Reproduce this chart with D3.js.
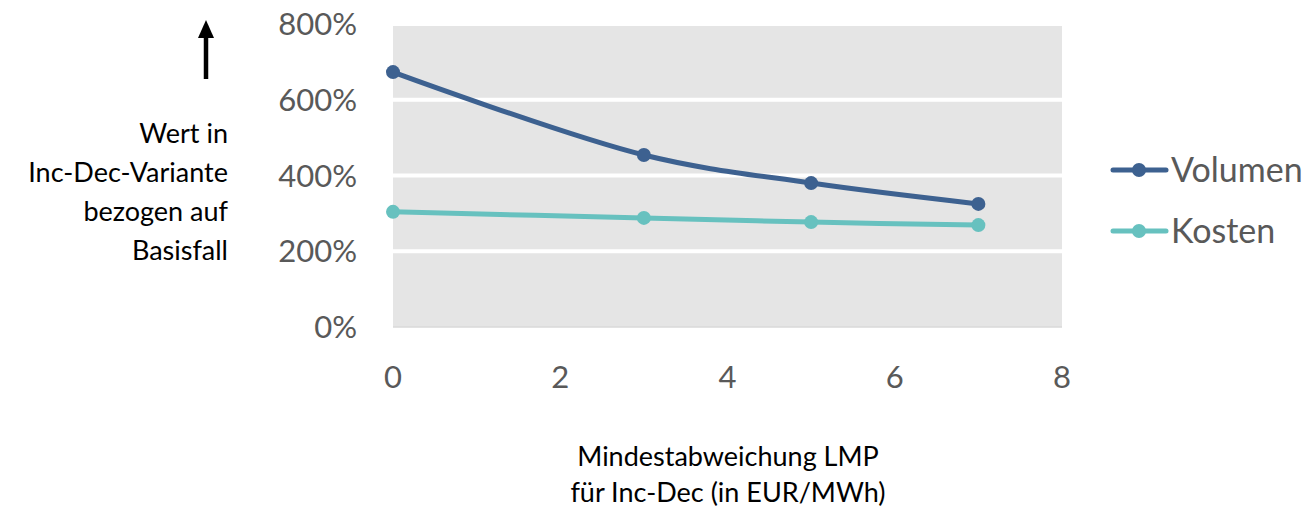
<!DOCTYPE html>
<html>
<head>
<meta charset="utf-8">
<script src="https://cdn.jsdelivr.net/npm/d3@7"></script>
<style>
  body { margin: 0; background: #fff; }
  text { font-family: Lato, "Open Sans", sans-serif; }
</style>
</head>
<body>
<div id="chart"></div>
<script>
// Mindestabweichung LMP (EUR/MWh)
const xValues = [0, 3, 5, 7];
const volumen = [673, 454, 380, 325];
const kosten = [304, 288, 277, 269];
const yTicks = [0, 200, 400, 600, 800];
const xTicks = [0, 2, 4, 6, 8];
const seriesNames = ["Volumen", "Kosten"];
const seriesColors = ["#3d6190", "#67c1bf"];
const yTitle = ["Wert in", "Inc-Dec-Variante", "bezogen auf", "Basisfall"];
const xTitle = ["Mindestabweichung LMP", "für Inc-Dec (in EUR/MWh)"];

const width = 1309;
const height = 509;

const svg = d3.select("#chart")
  .append("svg")
  .attr("width", width)
  .attr("height", height);

const x = d3.scaleLinear().domain([0, 8]).range([393, 1062]);
const y = d3.scaleLinear().domain([0, 800]).range([327, 24]);

// plot background
svg.append("rect")
  .attr("x", x(0))
  .attr("y", y(800))
  .attr("width", x(8) - x(0))
  .attr("height", y(0) - y(800))
  .style("fill", "#e5e5e5");

// white gridlines
svg.selectAll(".grid")
  .data(yTicks.filter((d) => d > 0))
  .enter()
  .append("line")
  .attr("x1", x(0))
  .attr("x2", x(8))
  .attr("y1", (d) => y(d))
  .attr("y2", (d) => y(d))
  .style("stroke", "#fff")
  .style("stroke-width", 4);

svg.append("line")
  .attr("x1", x(0))
  .attr("x2", x(8))
  .attr("y1", y(0))
  .attr("y2", y(0))
  .style("stroke", "#d9d9d9")
  .style("stroke-width", 1.5);

// y tick labels
svg.selectAll(".ylab")
  .data(yTicks)
  .enter()
  .append("text")
  .attr("x", 357)
  .attr("y", (d) => y(d))
  .attr("dy", "0.36em")
  .attr("text-anchor", "end")
  .style("font-size", "31px")
  .style("fill", "#595959")
  .text((d) => d + "%");

// x tick labels
svg.selectAll(".xlab")
  .data(xTicks)
  .enter()
  .append("text")
  .attr("x", (d) => x(d))
  .attr("y", 377)
  .attr("dy", "0.36em")
  .attr("text-anchor", "middle")
  .style("font-size", "31px")
  .style("fill", "#595959")
  .text((d) => d);

// series
const line = d3.line()
  .x((d) => x(d[0]))
  .y((d) => y(d[1]))
  .curve(d3.curveCatmullRom.alpha(0.5));

[volumen, kosten].forEach((vals, i) => {
  const pts = xValues.map((v, j) => [v, vals[j]]);
  svg.append("path")
    .datum(pts)
    .attr("d", line)
    .style("fill", "none")
    .style("stroke", seriesColors[i])
    .style("stroke-width", 5)
    .style("stroke-linecap", "round");
  svg.selectAll(".pt" + i)
    .data(pts)
    .enter()
    .append("circle")
    .attr("cx", (d) => x(d[0]))
    .attr("cy", (d) => y(d[1]))
    .attr("r", 7)
    .style("fill", seriesColors[i]);
});

// legend
const legend = svg.append("g");
seriesNames.forEach((name, i) => {
  const ly = 170 + i * 61;
  legend.append("line")
    .attr("x1", 1113)
    .attr("x2", 1166)
    .attr("y1", ly)
    .attr("y2", ly)
    .style("stroke", seriesColors[i])
    .style("stroke-width", 5)
    .style("stroke-linecap", "round");
  legend.append("circle")
    .attr("cx", 1139)
    .attr("cy", ly)
    .attr("r", 7)
    .style("fill", seriesColors[i]);
  legend.append("text")
    .attr("x", 1171)
    .attr("y", ly)
    .attr("dy", "0.36em")
    .style("font-size", "34px")
    .style("fill", "#595959")
    .text(name);
});

// y title with arrow
svg.append("line")
  .attr("x1", 206)
  .attr("x2", 206)
  .attr("y1", 79)
  .attr("y2", 34)
  .style("stroke", "#000")
  .style("stroke-width", 4.5);

svg.append("path")
  .attr("d", "M198,38 L206,20 L214,38 Z")
  .style("fill", "#000");

svg.selectAll(".ytitle")
  .data(yTitle)
  .enter()
  .append("text")
  .attr("x", 228)
  .attr("y", (d, i) => 133 + i * 39)
  .attr("dy", "0.36em")
  .attr("text-anchor", "end")
  .style("font-size", "27px")
  .style("fill", "#000")
  .text((d) => d);

svg.selectAll(".xtitle")
  .data(xTitle)
  .enter()
  .append("text")
  .attr("x", 728)
  .attr("y", (d, i) => 456 + i * 36)
  .attr("dy", "0.36em")
  .attr("text-anchor", "middle")
  .style("font-size", "27px")
  .style("fill", "#000")
  .text((d) => d);
</script>
</body>
</html>
